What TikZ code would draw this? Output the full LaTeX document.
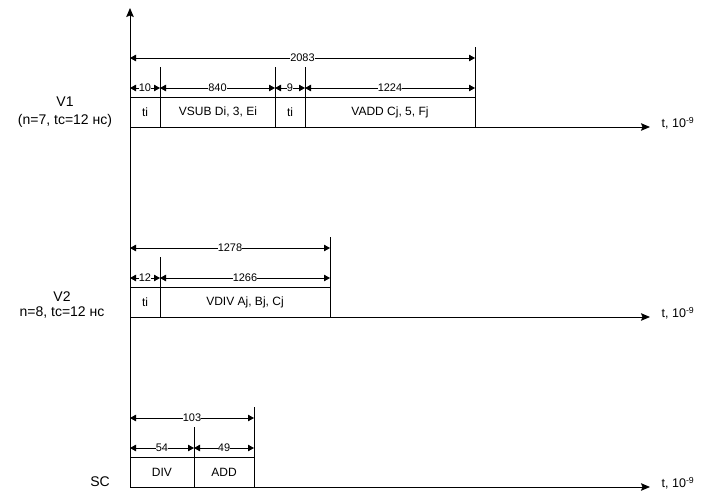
\documentclass[tikz,border=0pt]{standalone}
\usepackage{fontspec}
\setmainfont{Liberation Sans}
\usetikzlibrary{arrows.meta}

\begin{document}
\begin{tikzpicture}[x=1pt, y=-1pt, line width=0.8pt,
	dim/.style={{Triangle[length=6pt,width=6.5pt]}-{Triangle[length=6pt,width=6.5pt]}, line width=0.8pt},
	timeaxis/.style={-{Stealth[length=9pt,width=7.5pt,inset=1.5pt]}},
	dimtext/.style={fill=white, inner sep=0.2pt, font=\fontsize{11}{11}\selectfont},
	celltext/.style={font=\fontsize{12}{14}\selectfont},
	rowname/.style={align=center, font=\fontsize{14}{18}\selectfont},
	unittext/.style={anchor=west, font=\fontsize{12.5}{14}\selectfont}]
	\useasboundingbox (0,0) rectangle (710,498);
	% common time origin (1 pt = 1 px of the layout)
	\coordinate (o) at (130,487);
	\coordinate (otop) at (130,8);
	\draw[timeaxis] (o) -- (otop);
	%
	% V1: ti, VSUB, ti, VADD (total 2083)
	\coordinate (v1o) at (130,127);
	\coordinate (v1end) at (650,127);
	\draw[timeaxis] (v1o) -- (v1end);
	\node[unittext] (v1unit) at (658,123) {t, 10\textsuperscript{-9}};
	\node[rowname] (v1) at (65,112) {V1\\(n=7, tc=12 нс)};
	\draw (130,97) -- (475,97);
	\draw (160,67) -- (160,127);
	\draw (275,67) -- (275,127);
	\draw (305,67) -- (305,127);
	\draw (475,47) -- (475,127);
	\coordinate (v1t0) at (130,58); \coordinate (v1t4) at (475,58);
	\coordinate (v1a0) at (130,88); \coordinate (v1a1) at (160,88);
	\coordinate (v1a2) at (275,88); \coordinate (v1a3) at (305,88);
	\coordinate (v1a4) at (475,88);
	\draw[dim] (v1t0) -- node[dimtext] {2083} (v1t4);
	\draw[dim] (v1a0) -- node[dimtext] {10} (v1a1);
	\draw[dim] (v1a1) -- node[dimtext] {840} (v1a2);
	\draw[dim] (v1a2) -- node[dimtext] {9} (v1a3);
	\draw[dim] (v1a3) -- node[dimtext] {1224} (v1a4);
	\node[celltext] (v1c1) at (145,112) {ti};
	\node[celltext] (v1c2) at (218,112) {VSUB Di, 3, Ei};
	\node[celltext] (v1c3) at (290,112) {ti};
	\node[celltext] (v1c4) at (390,112) {VADD Cj, 5, Fj};
	%
	% V2: ti, VDIV (total 1278)
	\coordinate (v2o) at (130,317);
	\coordinate (v2end) at (650,317);
	\draw[timeaxis] (v2o) -- (v2end);
	\node[unittext] (v2unit) at (658,313) {t, 10\textsuperscript{-9}};
	\node[rowname, font=\fontsize{14}{15}\selectfont] (v2) at (62,305) {V2\\n=8, tc=12 нс};
	\draw (130,287) -- (330,287);
	\draw (160,257) -- (160,317);
	\draw (330,237) -- (330,317);
	\coordinate (v2t0) at (130,248); \coordinate (v2t2) at (330,248);
	\coordinate (v2a0) at (130,278); \coordinate (v2a1) at (160,278);
	\coordinate (v2a2) at (330,278);
	\draw[dim] (v2t0) -- node[dimtext] {1278} (v2t2);
	\draw[dim] (v2a0) -- node[dimtext] {12} (v2a1);
	\draw[dim] (v2a1) -- node[dimtext] {1266} (v2a2);
	\node[celltext] (v2c1) at (145,302) {ti};
	\node[celltext] (v2c2) at (245,302) {VDIV Aj, Bj, Cj};
	%
	% SC: DIV, ADD (total 103)
	\coordinate (scend) at (650,487);
	\draw[timeaxis] (o) -- (scend);
	\node[unittext] (scunit) at (658,483) {t, 10\textsuperscript{-9}};
	\node[rowname] (sc) at (100,482) {SC};
	\draw (130,457) -- (254,457);
	\draw (194,427) -- (194,487);
	\draw (254,407) -- (254,487);
	\coordinate (sct0) at (130,418); \coordinate (sct2) at (254,418);
	\coordinate (sca0) at (130,448); \coordinate (sca1) at (194,448);
	\coordinate (sca2) at (254,448);
	\draw[dim] (sct0) -- node[dimtext] {103} (sct2);
	\draw[dim] (sca0) -- node[dimtext] {54} (sca1);
	\draw[dim] (sca1) -- node[dimtext] {49} (sca2);
	\node[celltext] (scc1) at (162,472) {DIV};
	\node[celltext] (scc2) at (224,472) {ADD};
\end{tikzpicture}
\end{document}
